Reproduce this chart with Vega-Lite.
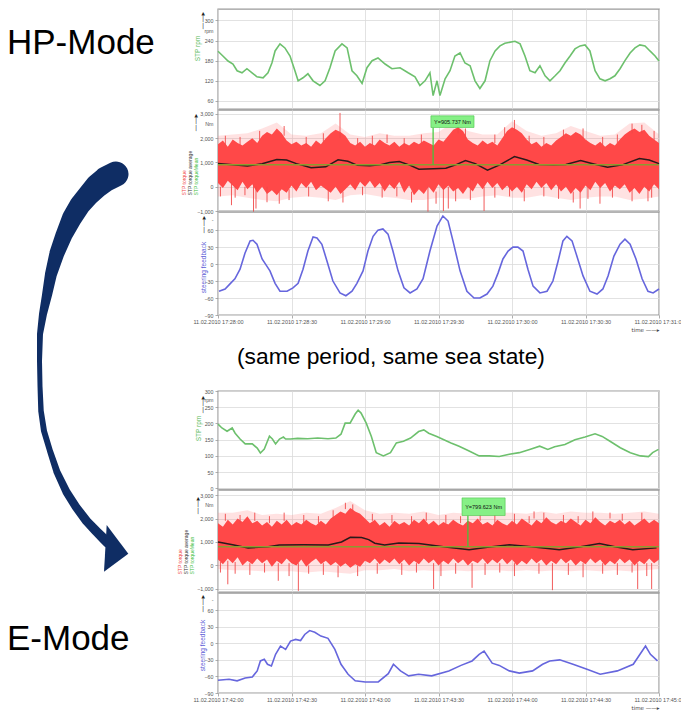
{
"$schema": "https://vega.github.io/schema/vega-lite/v6.json",
"padding": {"left": 0, "top": 8, "right": 0, "bottom": 0},
"background": "white",
"config": {
 "view": {"stroke": "#9a9a9a", "strokeWidth": 1.4},
 "font": "Liberation Sans",
 "axis": {"labelFont": "Liberation Sans", "labelFontSize": 5.3, "labelColor": "#555", "gridColor": "#dadada", "gridWidth": 0.8, "tickColor": "#999", "tickSize": 3, "tickWidth": 0.8, "domain": false, "titleFont": "Liberation Sans", "titleFontWeight": "normal", "labelPadding": 2},
 "axisX": {"labelFlush": false, "labelOverlap": false}
},
"datasets": {
 "leftText": [{"x": 7, "y": 53, "label": "HP-Mode"}, {"x": 7, "y": 649, "label": "E-Mode"}],
 "arrowHead": [{"x": 105.3, "y": 547.3}],
 "arrowL": [
  {"i":1,"x":116,"y":173,"w":25},{"i":2,"x":106,"y":178,"w":25},{"i":3,"x":97,"y":185,"w":24},{"i":4,"x":88.5,"y":194,"w":22},{"i":5,"x":80,"y":204,"w":21},{"i":6,"x":72,"y":217,"w":20},{"i":7,"x":64,"y":234,"w":17},{"i":8,"x":57,"y":252,"w":15},{"i":9,"x":51,"y":273,"w":12},{"i":10,"x":47,"y":294,"w":10},{"i":11,"x":43,"y":313,"w":8},{"i":12,"x":40,"y":333,"w":6},{"i":13,"x":39.5,"y":360,"w":5},{"i":14,"x":40,"y":385,"w":5},{"i":15,"x":41,"y":410,"w":5.5},{"i":16,"x":44,"y":430,"w":6},{"i":17,"x":50,"y":450,"w":6},{"i":18,"x":57,"y":471,"w":7},{"i":19,"x":66.5,"y":491,"w":8},{"i":20,"x":76,"y":506,"w":8.5},{"i":21,"x":86.5,"y":520,"w":9},{"i":22,"x":96,"y":530,"w":9.5},{"i":23,"x":104,"y":538,"w":10},{"i":24,"x":108,"y":542,"w":10}
 ],
 "caption": [{"t": 70.6, "v": 0.446, "label": "(same period, same sea state)"}],
 "rpmA": [
  {"t":0,"v":208},{"t":2,"v":194},{"t":4.1,"v":179},{"t":6.1,"v":170},{"t":7.8,"v":150},{"t":9.8,"v":144},{"t":11.8,"v":156},{"t":13.9,"v":144},{"t":15.9,"v":132},{"t":18.4,"v":129},{"t":20.4,"v":144},{"t":22,"v":173},{"t":23.3,"v":209},{"t":25.3,"v":230},{"t":27.3,"v":218},{"t":29.4,"v":194},{"t":31.4,"v":150},{"t":32.7,"v":120},{"t":34.7,"v":129},{"t":36.7,"v":141},{"t":38.8,"v":120},{"t":41.6,"v":106},{"t":43.7,"v":120},{"t":45.7,"v":159},{"t":47.8,"v":209},{"t":50.6,"v":230},{"t":52.7,"v":218},{"t":54.7,"v":150},{"t":56.7,"v":135},{"t":58.8,"v":112},{"t":60.8,"v":159},{"t":62.9,"v":180},{"t":65.3,"v":188},{"t":68.2,"v":170},{"t":71,"v":156},{"t":74.3,"v":159},{"t":77.6,"v":144},{"t":80.4,"v":132},{"t":82.4,"v":106},{"t":84.5,"v":120},{"t":86.5,"v":144},{"t":87.8,"v":76},{"t":89.4,"v":120},{"t":90.6,"v":76},{"t":92.7,"v":126},{"t":94.7,"v":150},{"t":96.7,"v":194},{"t":98.8,"v":203},{"t":100.8,"v":173},{"t":102.9,"v":165},{"t":104.9,"v":120},{"t":106.9,"v":97},{"t":109,"v":120},{"t":111,"v":180},{"t":113.1,"v":209},{"t":115.1,"v":224},{"t":117.1,"v":232},{"t":121.2,"v":238},{"t":123.3,"v":230},{"t":125.3,"v":194},{"t":127.3,"v":150},{"t":129.4,"v":144},{"t":131.4,"v":165},{"t":133.5,"v":135},{"t":135.5,"v":120},{"t":137.6,"v":135},{"t":139.6,"v":150},{"t":141.6,"v":173},{"t":143.7,"v":194},{"t":145.7,"v":215},{"t":147.8,"v":224},{"t":149.8,"v":227},{"t":151.8,"v":209},{"t":153.9,"v":150},{"t":155.9,"v":126},{"t":158,"v":120},{"t":160,"v":126},{"t":162,"v":135},{"t":164.1,"v":156},{"t":166.1,"v":180},{"t":168.2,"v":203},{"t":170.2,"v":218},{"t":172.2,"v":227},{"t":174.3,"v":224},{"t":176.3,"v":209},{"t":178.4,"v":194},{"t":180,"v":179}
 ],
 "steerA": [
  {"t":0.4,"v":-48},{"t":2.9,"v":-44},{"t":4.9,"v":-35},{"t":6.9,"v":-26},{"t":9,"v":-9},{"t":11,"v":19},{"t":13.1,"v":41},{"t":14.3,"v":42},{"t":15.9,"v":35},{"t":18,"v":9},{"t":20,"v":-4},{"t":21.2,"v":-12},{"t":23.3,"v":-34},{"t":25.3,"v":-48},{"t":28.2,"v":-48},{"t":30.6,"v":-42},{"t":32.7,"v":-34},{"t":34.7,"v":-9},{"t":36.7,"v":23},{"t":38.8,"v":48},{"t":40.4,"v":46},{"t":42.4,"v":35},{"t":44.5,"v":5},{"t":46.9,"v":-30},{"t":49.8,"v":-51},{"t":52.2,"v":-56},{"t":54.7,"v":-48},{"t":56.7,"v":-34},{"t":59.2,"v":-12},{"t":61.2,"v":23},{"t":63.3,"v":49},{"t":65.3,"v":60},{"t":67.3,"v":62},{"t":69.4,"v":53},{"t":71.4,"v":23},{"t":73.5,"v":-12},{"t":75.9,"v":-42},{"t":78.4,"v":-51},{"t":81.2,"v":-44},{"t":83.7,"v":-26},{"t":86.5,"v":23},{"t":89.4,"v":67},{"t":91.8,"v":85},{"t":93.9,"v":76},{"t":95.9,"v":41},{"t":98.8,"v":-12},{"t":101.6,"v":-48},{"t":104.5,"v":-60},{"t":106.9,"v":-60},{"t":109.8,"v":-53},{"t":112.2,"v":-39},{"t":114.3,"v":-16},{"t":116.3,"v":9},{"t":118.4,"v":23},{"t":120.4,"v":30},{"t":122.4,"v":30},{"t":124.5,"v":23},{"t":126.5,"v":-9},{"t":128.6,"v":-39},{"t":131.4,"v":-51},{"t":134.3,"v":-48},{"t":136.7,"v":-30},{"t":138.8,"v":5},{"t":140.8,"v":41},{"t":142.4,"v":49},{"t":144.5,"v":41},{"t":146.5,"v":14},{"t":149,"v":-21},{"t":151.8,"v":-48},{"t":154.7,"v":-53},{"t":157.1,"v":-44},{"t":159.2,"v":-21},{"t":161.6,"v":14},{"t":164.1,"v":35},{"t":166.1,"v":44},{"t":168.2,"v":35},{"t":170.6,"v":9},{"t":173.1,"v":-26},{"t":175.5,"v":-48},{"t":177.6,"v":-51},{"t":180,"v":-44}
 ],
 "fringeA": [
  {"t":0,"hi":2100,"lo":-400},{"t":6,"hi":2150,"lo":-350},{"t":12,"hi":2200,"lo":-450},{"t":18,"hi":2400,"lo":-550},{"t":24,"hi":2650,"lo":-600},{"t":30,"hi":2150,"lo":-450},{"t":36,"hi":2100,"lo":-400},{"t":42,"hi":2200,"lo":-450},{"t":48,"hi":2600,"lo":-550},{"t":54,"hi":2150,"lo":-350},{"t":60,"hi":2050,"lo":-300},{"t":66,"hi":2200,"lo":-400},{"t":72,"hi":2100,"lo":-450},{"t":78,"hi":2100,"lo":-550},{"t":84,"hi":2200,"lo":-550},{"t":90,"hi":2250,"lo":-450},{"t":96,"hi":2650,"lo":-500},{"t":102,"hi":2300,"lo":-500},{"t":108,"hi":2150,"lo":-400},{"t":114,"hi":2150,"lo":-350},{"t":120,"hi":2700,"lo":-450},{"t":126,"hi":2300,"lo":-450},{"t":132,"hi":2100,"lo":-350},{"t":138,"hi":2200,"lo":-450},{"t":144,"hi":2500,"lo":-550},{"t":150,"hi":2300,"lo":-450},{"t":156,"hi":2100,"lo":-400},{"t":162,"hi":2150,"lo":-400},{"t":168,"hi":2600,"lo":-550},{"t":174,"hi":2650,"lo":-500},{"t":180,"hi":2150,"lo":-400}
 ],
 "bandA": [
  {"t":0,"hi":1750,"lo":150},{"t":2,"hi":1900,"lo":-50},{"t":4,"hi":1650,"lo":250},{"t":6,"hi":1950,"lo":50},{"t":8,"hi":1800,"lo":-150},{"t":10,"hi":1700,"lo":200},{"t":12,"hi":1850,"lo":-100},{"t":14,"hi":2000,"lo":100},{"t":16,"hi":1800,"lo":-250},{"t":18,"hi":2100,"lo":0},{"t":20,"hi":2250,"lo":-300},{"t":22,"hi":2150,"lo":-150},{"t":24,"hi":2400,"lo":-350},{"t":26,"hi":2200,"lo":-100},{"t":28,"hi":1900,"lo":-250},{"t":30,"hi":1750,"lo":50},{"t":32,"hi":1850,"lo":-200},{"t":34,"hi":1700,"lo":150},{"t":36,"hi":1800,"lo":-50},{"t":38,"hi":1650,"lo":200},{"t":40,"hi":1900,"lo":-150},{"t":42,"hi":1750,"lo":50},{"t":44,"hi":2000,"lo":-100},{"t":46,"hi":2200,"lo":-250},{"t":48,"hi":2350,"lo":0},{"t":50,"hi":2250,"lo":-300},{"t":52,"hi":2100,"lo":-100},{"t":54,"hi":1800,"lo":100},{"t":56,"hi":1700,"lo":-150},{"t":58,"hi":1850,"lo":200},{"t":60,"hi":1650,"lo":0},{"t":62,"hi":1800,"lo":250},{"t":64,"hi":1700,"lo":-50},{"t":66,"hi":1950,"lo":150},{"t":68,"hi":1800,"lo":-200},{"t":70,"hi":1700,"lo":100},{"t":72,"hi":1850,"lo":-100},{"t":74,"hi":1650,"lo":200},{"t":76,"hi":1800,"lo":-250},{"t":78,"hi":1700,"lo":50},{"t":80,"hi":1850,"lo":-350},{"t":82,"hi":1750,"lo":-100},{"t":84,"hi":1900,"lo":-300},{"t":86,"hi":1800,"lo":0},{"t":88,"hi":1700,"lo":-250},{"t":90,"hi":1950,"lo":100},{"t":92,"hi":1850,"lo":-150},{"t":94,"hi":2100,"lo":50},{"t":96,"hi":2350,"lo":-200},{"t":98,"hi":2450,"lo":-50},{"t":100,"hi":2300,"lo":-300},{"t":102,"hi":1950,"lo":0},{"t":104,"hi":1800,"lo":-200},{"t":106,"hi":1700,"lo":150},{"t":108,"hi":1900,"lo":-100},{"t":110,"hi":1750,"lo":200},{"t":112,"hi":1850,"lo":-50},{"t":114,"hi":1700,"lo":150},{"t":116,"hi":2000,"lo":-150},{"t":118,"hi":2300,"lo":50},{"t":120,"hi":2450,"lo":-200},{"t":122,"hi":2350,"lo":0},{"t":124,"hi":2200,"lo":-250},{"t":126,"hi":1950,"lo":100},{"t":128,"hi":1750,"lo":-100},{"t":130,"hi":1850,"lo":200},{"t":132,"hi":1650,"lo":-50},{"t":134,"hi":1800,"lo":150},{"t":136,"hi":1700,"lo":-150},{"t":138,"hi":1900,"lo":100},{"t":140,"hi":2050,"lo":-200},{"t":142,"hi":2200,"lo":0},{"t":144,"hi":2100,"lo":-300},{"t":146,"hi":2250,"lo":-50},{"t":148,"hi":2150,"lo":-250},{"t":150,"hi":1950,"lo":50},{"t":152,"hi":1800,"lo":-150},{"t":154,"hi":1700,"lo":200},{"t":156,"hi":1850,"lo":-50},{"t":158,"hi":1650,"lo":150},{"t":160,"hi":1800,"lo":-200},{"t":162,"hi":1700,"lo":50},{"t":164,"hi":1950,"lo":-100},{"t":166,"hi":2150,"lo":100},{"t":168,"hi":2300,"lo":-250},{"t":170,"hi":2400,"lo":-50},{"t":172,"hi":2250,"lo":-300},{"t":174,"hi":2350,"lo":0},{"t":176,"hi":2100,"lo":-200},{"t":178,"hi":1950,"lo":100},{"t":180,"hi":1800,"lo":-100}
 ],
 "spikeA": [
  {"t":5.5,"a":200,"b":-760},{"t":14.5,"a":100,"b":-1040},{"t":15.5,"a":0,"b":-900},{"t":20,"a":0,"b":-640},{"t":49.8,"a":2000,"b":3040},{"t":85.7,"a":0,"b":-1040},{"t":92,"a":-100,"b":-1000},{"t":94,"a":0,"b":-900},{"t":98,"a":2200,"b":2700},{"t":108.6,"a":0,"b":-1000},{"t":121,"a":2300,"b":2750},{"t":147.8,"a":0,"b":-900},{"t":155.9,"a":0,"b":-700},{"t":175.5,"a":0,"b":-600},
  {"t":3,"a":1700,"b":2100},{"t":9,"a":1700,"b":2050},{"t":17,"a":1900,"b":2300},{"t":27,"a":2100,"b":2500},{"t":36,"a":1700,"b":2050},{"t":43,"a":1800,"b":2200},{"t":57,"a":1700,"b":2000},{"t":63,"a":1700,"b":2100},{"t":69,"a":1800,"b":2150},{"t":76,"a":1700,"b":2000},{"t":83,"a":1800,"b":2150},{"t":101,"a":2000,"b":2400},{"t":113,"a":1800,"b":2150},{"t":117,"a":2100,"b":2450},{"t":127,"a":1800,"b":2100},{"t":133,"a":1700,"b":2050},{"t":141,"a":2000,"b":2350},{"t":149,"a":2000,"b":2400},{"t":157,"a":1700,"b":2050},{"t":163,"a":1800,"b":2150},{"t":169,"a":2200,"b":2600},{"t":173,"a":2200,"b":2550},{"t":178,"a":1900,"b":2300},
  {"t":1,"a":0,"b":-400},{"t":7,"a":0,"b":-450},{"t":11,"a":0,"b":-350},{"t":25,"a":-200,"b":-700},{"t":29,"a":-100,"b":-550},{"t":37,"a":0,"b":-400},{"t":45,"a":-100,"b":-600},{"t":51,"a":-200,"b":-650},{"t":59,"a":0,"b":-350},{"t":67,"a":0,"b":-450},{"t":73,"a":0,"b":-400},{"t":79,"a":-200,"b":-650},{"t":89,"a":-200,"b":-700},{"t":97,"a":-100,"b":-600},{"t":103,"a":-100,"b":-550},{"t":113,"a":0,"b":-450},{"t":119,"a":0,"b":-400},{"t":125,"a":-100,"b":-600},{"t":133,"a":0,"b":-400},{"t":139,"a":0,"b":-500},{"t":145,"a":-200,"b":-650},{"t":151,"a":0,"b":-500},{"t":161,"a":0,"b":-450},{"t":169,"a":-100,"b":-600},{"t":177,"a":0,"b":-450}
 ],
 "avgA": [
  {"t":0,"v":960},{"t":6,"v":900},{"t":12,"v":850},{"t":18,"v":950},{"t":24,"v":1120},{"t":28,"v":1100},{"t":32,"v":950},{"t":38,"v":780},{"t":44,"v":820},{"t":49,"v":1110},{"t":53,"v":1050},{"t":57,"v":880},{"t":62,"v":860},{"t":66,"v":900},{"t":70,"v":1000},{"t":74,"v":1040},{"t":78,"v":900},{"t":82,"v":720},{"t":88,"v":740},{"t":93,"v":760},{"t":97,"v":900},{"t":101,"v":1080},{"t":105,"v":950},{"t":110,"v":680},{"t":115,"v":900},{"t":121,"v":1240},{"t":126,"v":1100},{"t":131,"v":920},{"t":137,"v":900},{"t":142,"v":920},{"t":148,"v":1080},{"t":153,"v":950},{"t":159,"v":800},{"t":165,"v":900},{"t":172,"v":1160},{"t":176,"v":1100},{"t":180,"v":950}
 ],
 "annA": [{"t0":86.9,"t1":104.5,"y0":2440,"y1":2920,"ts":87.8,"mean":906,"tm":95.7,"ym":2680,"label":"Y=905.737 Nm"}],
 "rpmB": [
  {"t":0,"v":198},{"t":1.6,"v":186},{"t":3.7,"v":176},{"t":5.8,"v":186},{"t":7,"v":170},{"t":9,"v":152},{"t":11.1,"v":137},{"t":14,"v":137},{"t":16,"v":124},{"t":17.3,"v":109},{"t":18.9,"v":121},{"t":21,"v":161},{"t":22.2,"v":152},{"t":23.5,"v":137},{"t":25.1,"v":152},{"t":26.7,"v":158},{"t":27.6,"v":152},{"t":29.6,"v":152},{"t":32.5,"v":154},{"t":36.6,"v":153},{"t":40.7,"v":155},{"t":44.9,"v":153},{"t":48.1,"v":155},{"t":50.2,"v":167},{"t":51.9,"v":201},{"t":53.9,"v":201},{"t":56,"v":229},{"t":57.2,"v":241},{"t":58.4,"v":232},{"t":60.5,"v":201},{"t":62.6,"v":160},{"t":64.6,"v":110},{"t":67.5,"v":100},{"t":70.4,"v":110},{"t":72.8,"v":140},{"t":75.7,"v":145},{"t":78.6,"v":155},{"t":81.9,"v":175},{"t":84,"v":180},{"t":86,"v":170},{"t":89.3,"v":160},{"t":92.2,"v":150},{"t":95.1,"v":140},{"t":98.4,"v":130},{"t":102.5,"v":115},{"t":106.6,"v":100},{"t":110.7,"v":100},{"t":114.8,"v":98},{"t":118.9,"v":105},{"t":123,"v":110},{"t":127.2,"v":120},{"t":131.3,"v":130},{"t":134.6,"v":120},{"t":137.4,"v":128},{"t":141.6,"v":135},{"t":145.7,"v":150},{"t":149.8,"v":158},{"t":153.9,"v":168},{"t":156.8,"v":160},{"t":160,"v":145},{"t":164.2,"v":125},{"t":168.3,"v":110},{"t":172.4,"v":100},{"t":175.7,"v":98},{"t":177.4,"v":110},{"t":179.8,"v":120}
 ],
 "steerB": [
  {"t":0,"v":-67},{"t":4.5,"v":-65},{"t":7.8,"v":-68},{"t":11.1,"v":-63},{"t":14,"v":-61},{"t":16,"v":-50},{"t":17.3,"v":-32},{"t":18.9,"v":-29},{"t":20.2,"v":-38},{"t":21.8,"v":-41},{"t":23.5,"v":-20},{"t":25.5,"v":-5},{"t":27.6,"v":-11},{"t":29.6,"v":4},{"t":31.7,"v":7},{"t":33.7,"v":5},{"t":35.4,"v":16},{"t":37.4,"v":23},{"t":39.5,"v":20},{"t":42,"v":13},{"t":44.9,"v":9},{"t":47.7,"v":-11},{"t":50.2,"v":-38},{"t":53.1,"v":-56},{"t":56,"v":-68},{"t":60.1,"v":-70},{"t":65.4,"v":-70},{"t":69.5,"v":-55},{"t":71.6,"v":-38},{"t":74.5,"v":-50},{"t":77.8,"v":-59},{"t":81.9,"v":-56},{"t":87.2,"v":-59},{"t":94.2,"v":-50},{"t":99.2,"v":-40},{"t":103.7,"v":-32},{"t":106.6,"v":-20},{"t":108.6,"v":-14},{"t":111.9,"v":-36},{"t":114.8,"v":-40},{"t":118.9,"v":-50},{"t":123,"v":-54},{"t":128.4,"v":-50},{"t":132.5,"v":-38},{"t":135.4,"v":-32},{"t":139.5,"v":-30},{"t":144.9,"v":-38},{"t":150.6,"v":-47},{"t":156,"v":-56},{"t":163,"v":-50},{"t":169.5,"v":-38},{"t":174.5,"v":-5},{"t":176.5,"v":-20},{"t":179.4,"v":-32}
 ],
 "fringeB": [
  {"t":0,"hi":2250,"lo":-150},{"t":6,"hi":2250,"lo":-200},{"t":12,"hi":2350,"lo":-200},{"t":18,"hi":2150,"lo":-250},{"t":24,"hi":2200,"lo":-250},{"t":30,"hi":2150,"lo":-250},{"t":36,"hi":2250,"lo":-300},{"t":42,"hi":2200,"lo":-250},{"t":48,"hi":2450,"lo":-300},{"t":54,"hi":2750,"lo":-350},{"t":60,"hi":2350,"lo":-200},{"t":66,"hi":2200,"lo":-200},{"t":72,"hi":2250,"lo":-150},{"t":78,"hi":2200,"lo":-250},{"t":84,"hi":2300,"lo":-200},{"t":90,"hi":2150,"lo":-250},{"t":96,"hi":2250,"lo":-200},{"t":102,"hi":2200,"lo":-250},{"t":108,"hi":2250,"lo":-200},{"t":114,"hi":2250,"lo":-200},{"t":120,"hi":2250,"lo":-250},{"t":126,"hi":2200,"lo":-200},{"t":132,"hi":2300,"lo":-250},{"t":138,"hi":2200,"lo":-200},{"t":144,"hi":2300,"lo":-250},{"t":150,"hi":2250,"lo":-200},{"t":156,"hi":2250,"lo":-250},{"t":162,"hi":2200,"lo":-200},{"t":168,"hi":2250,"lo":-250},{"t":174,"hi":2300,"lo":-200},{"t":180,"hi":2200,"lo":-150}
 ],
 "bandB": [
  {"t":0,"hi":1800,"lo":250},{"t":2,"hi":1650,"lo":50},{"t":4,"hi":1950,"lo":300},{"t":6,"hi":1750,"lo":100},{"t":8,"hi":2000,"lo":350},{"t":10,"hi":1850,"lo":0},{"t":12,"hi":2100,"lo":200},{"t":14,"hi":1800,"lo":50},{"t":16,"hi":1900,"lo":300},{"t":18,"hi":1700,"lo":100},{"t":20,"hi":1850,"lo":250},{"t":22,"hi":1650,"lo":-50},{"t":24,"hi":1900,"lo":200},{"t":26,"hi":1750,"lo":50},{"t":28,"hi":1950,"lo":300},{"t":30,"hi":1700,"lo":100},{"t":32,"hi":1850,"lo":0},{"t":34,"hi":1750,"lo":250},{"t":36,"hi":1950,"lo":-50},{"t":38,"hi":1800,"lo":150},{"t":40,"hi":1700,"lo":300},{"t":42,"hi":1900,"lo":50},{"t":44,"hi":1750,"lo":200},{"t":46,"hi":2000,"lo":0},{"t":48,"hi":2150,"lo":150},{"t":50,"hi":2300,"lo":-50},{"t":52,"hi":2200,"lo":100},{"t":54,"hi":2450,"lo":-100},{"t":56,"hi":2300,"lo":50},{"t":58,"hi":2200,"lo":-50},{"t":60,"hi":2000,"lo":200},{"t":62,"hi":1800,"lo":100},{"t":64,"hi":1950,"lo":300},{"t":66,"hi":1700,"lo":50},{"t":68,"hi":1850,"lo":250},{"t":70,"hi":1650,"lo":100},{"t":72,"hi":1900,"lo":300},{"t":74,"hi":1750,"lo":50},{"t":76,"hi":1850,"lo":250},{"t":78,"hi":1700,"lo":0},{"t":80,"hi":1950,"lo":200},{"t":82,"hi":1800,"lo":50},{"t":84,"hi":2000,"lo":300},{"t":86,"hi":1750,"lo":100},{"t":88,"hi":1900,"lo":250},{"t":90,"hi":1700,"lo":0},{"t":92,"hi":1850,"lo":200},{"t":94,"hi":1750,"lo":50},{"t":96,"hi":1950,"lo":300},{"t":98,"hi":1800,"lo":100},{"t":100,"hi":1700,"lo":250},{"t":102,"hi":1900,"lo":0},{"t":104,"hi":1800,"lo":200},{"t":106,"hi":2000,"lo":100},{"t":108,"hi":1750,"lo":300},{"t":110,"hi":1850,"lo":50},{"t":112,"hi":1700,"lo":250},{"t":114,"hi":1950,"lo":100},{"t":116,"hi":1800,"lo":300},{"t":118,"hi":1700,"lo":50},{"t":120,"hi":1900,"lo":250},{"t":122,"hi":1750,"lo":0},{"t":124,"hi":2000,"lo":200},{"t":126,"hi":1850,"lo":50},{"t":128,"hi":1700,"lo":300},{"t":130,"hi":1950,"lo":100},{"t":132,"hi":1800,"lo":250},{"t":134,"hi":2050,"lo":0},{"t":136,"hi":1850,"lo":200},{"t":138,"hi":1750,"lo":50},{"t":140,"hi":1900,"lo":300},{"t":142,"hi":1800,"lo":100},{"t":144,"hi":2000,"lo":250},{"t":146,"hi":1850,"lo":0},{"t":148,"hi":1700,"lo":200},{"t":150,"hi":1950,"lo":50},{"t":152,"hi":1800,"lo":300},{"t":154,"hi":2050,"lo":100},{"t":156,"hi":1850,"lo":250},{"t":158,"hi":1700,"lo":0},{"t":160,"hi":1900,"lo":200},{"t":162,"hi":1800,"lo":50},{"t":164,"hi":1950,"lo":300},{"t":166,"hi":1750,"lo":100},{"t":168,"hi":1900,"lo":250},{"t":170,"hi":1700,"lo":0},{"t":172,"hi":1850,"lo":200},{"t":174,"hi":2000,"lo":50},{"t":176,"hi":1800,"lo":300},{"t":178,"hi":1950,"lo":100},{"t":180,"hi":1800,"lo":250}
 ],
 "spikeB": [
  {"t":4,"a":200,"b":-800},{"t":24.6,"a":100,"b":-650},{"t":32.8,"a":100,"b":-1080},{"t":52,"a":2400,"b":2670},{"t":88,"a":100,"b":-1000},{"t":103.7,"a":100,"b":-950},{"t":129,"a":2000,"b":2300},{"t":136.5,"a":100,"b":-1050},{"t":160,"a":2000,"b":2250},{"t":171.3,"a":100,"b":-1000},{"t":177,"a":100,"b":-1000},
  {"t":3,"a":1900,"b":2200},{"t":9,"a":1800,"b":2150},{"t":15,"a":1900,"b":2250},{"t":21,"a":1800,"b":2100},{"t":27,"a":1900,"b":2250},{"t":35,"a":1800,"b":2150},{"t":41,"a":1800,"b":2100},{"t":47,"a":2000,"b":2350},{"t":55,"a":2300,"b":2600},{"t":63,"a":1900,"b":2200},{"t":71,"a":1800,"b":2150},{"t":79,"a":1800,"b":2100},{"t":85,"a":1900,"b":2250},{"t":93,"a":1800,"b":2150},{"t":99,"a":1800,"b":2100},{"t":107,"a":1900,"b":2250},{"t":113,"a":1800,"b":2150},{"t":121,"a":1800,"b":2200},{"t":127,"a":1800,"b":2100},{"t":133,"a":1900,"b":2250},{"t":141,"a":1800,"b":2150},{"t":147,"a":1800,"b":2100},{"t":153,"a":1900,"b":2300},{"t":165,"a":1900,"b":2200},{"t":173,"a":1900,"b":2250},
  {"t":1,"a":150,"b":-300},{"t":7,"a":150,"b":-350},{"t":13,"a":100,"b":-400},{"t":19,"a":100,"b":-300},{"t":29,"a":100,"b":-450},{"t":37,"a":0,"b":-350},{"t":43,"a":100,"b":-400},{"t":49,"a":0,"b":-500},{"t":57,"a":0,"b":-450},{"t":65,"a":100,"b":-350},{"t":75,"a":100,"b":-400},{"t":81,"a":100,"b":-300},{"t":91,"a":100,"b":-450},{"t":97,"a":100,"b":-350},{"t":109,"a":100,"b":-400},{"t":115,"a":100,"b":-300},{"t":121,"a":100,"b":-450},{"t":131,"a":100,"b":-350},{"t":143,"a":100,"b":-400},{"t":149,"a":100,"b":-500},{"t":157,"a":100,"b":-350},{"t":163,"a":100,"b":-400},{"t":169,"a":100,"b":-300},{"t":175,"a":100,"b":-450}
 ],
 "avgB": [
  {"t":0,"v":1000},{"t":6,"v":880},{"t":12.3,"v":750},{"t":20.5,"v":800},{"t":25,"v":875},{"t":35,"v":880},{"t":45,"v":870},{"t":50.4,"v":1000},{"t":54,"v":1200},{"t":58.6,"v":1190},{"t":61.5,"v":1100},{"t":64,"v":950},{"t":68,"v":870},{"t":73.8,"v":960},{"t":82,"v":940},{"t":92,"v":800},{"t":102.5,"v":670},{"t":110,"v":780},{"t":118.9,"v":880},{"t":128,"v":800},{"t":139.3,"v":670},{"t":148,"v":800},{"t":155.7,"v":940},{"t":162,"v":800},{"t":169.3,"v":670},{"t":179,"v":750}
 ],
 "annB": [{"t0":99.6,"t1":117.2,"y0":2127,"y1":2877,"ts":102,"mean":799.6,"tm":108.4,"ym":2500,"label":"Y=799.623 Nm"}]
},
"spacing": 0,
"hconcat": [
 {
  "width": 176, "height": 700,
  "view": {"stroke": null},
  "layer": [
   {"data": {"name": "arrowL"}, "mark": {"type": "trail", "color": "#0F2D64"},
    "encoding": {
     "x": {"field": "x", "type": "quantitative", "scale": {"domain": [0, 176], "nice": false, "zero": false}, "axis": null},
     "y": {"field": "y", "type": "quantitative", "scale": {"domain": [8, 708], "reverse": true, "nice": false, "zero": false}, "axis": null},
     "size": {"field": "w", "type": "quantitative", "scale": null, "legend": null},
     "order": {"field": "i", "type": "quantitative"}}},
   {"data": {"name": "arrowHead"}, "mark": {"type": "point", "shape": "M 1.4 -23.3 L 23 5.4 L -1.3 23.4 Z", "size": 4, "filled": true, "color": "#0F2D64", "opacity": 1},
    "encoding": {"x": {"field": "x", "type": "quantitative"}, "y": {"field": "y", "type": "quantitative"}}},
   {"data": {"name": "leftText"}, "mark": {"type": "text", "font": "Liberation Sans", "fontSize": 35, "align": "left", "baseline": "alphabetic", "color": "#000000"},
    "encoding": {"x": {"field": "x", "type": "quantitative"}, "y": {"field": "y", "type": "quantitative"}, "text": {"field": "label"}}}
  ]
 },
 {
  "spacing": 1,
  "bounds": "flush",
  "vconcat": [
   {
    "width": 441, "height": 100,
    "layer": [
     {"data": {"name": "rpmA"}, "mark": {"type": "line", "color": "#6DC06D", "strokeWidth": 1.6},
      "encoding": {
       "x": {"field": "t", "type": "quantitative", "scale": {"domain": [0, 180], "nice": false, "zero": false}, "axis": {"values": [0, 30, 60, 90, 120, 150, 180], "labels": false, "ticks": false, "domain": false, "title": null}},
       "y": {"field": "v", "type": "quantitative", "scale": {"domain": [36, 334], "nice": false, "zero": false}, "axis": {"orient": "left", "values": [60, 120, 180, 240, 270, 300], "labelExpr": "datum.value==270?'rpm':datum.label", "gridOpacity": {"condition": {"test": "datum.value==270", "value": 0}, "value": 1}, "tickOpacity": {"condition": {"test": "datum.value==270", "value": 0}, "value": 1}, "title": "STP rpm", "titleColor": "#5DBB5D", "titleFontSize": 6.5, "titleX": -21, "titleY": 39, "titleAlign": "center", "titleBaseline": "middle"}}}},
     {"data": {"name": "rpmA"}, "mark": {"type": "point", "opacity": 0},
      "encoding": {"y": {"field": "v", "type": "quantitative", "axis": {"orient": "left", "labels": false, "ticks": false, "grid": false, "domain": false, "title": "——▸", "titleFont": "DejaVu Sans", "titleColor": "#222", "titleFontSize": 7, "titleX": -16, "titleY": 20, "titleAlign": "left", "titleBaseline": "middle"}}}}
    ],
    "resolve": {"axis": {"y": "independent"}}
   },
   {
    "width": 441, "height": 101,
    "layer": [
     {"data": {"name": "fringeA"}, "mark": {"type": "area", "color": "#FF7A7A", "opacity": 0.22},
      "encoding": {
       "x": {"field": "t", "type": "quantitative", "scale": {"domain": [0, 180], "nice": false, "zero": false}, "axis": {"values": [0, 30, 60, 90, 120, 150, 180], "labels": false, "ticks": false, "domain": false, "title": null}},
       "y": {"field": "hi", "type": "quantitative", "scale": {"domain": [-1000, 3160], "nice": false, "zero": false}, "axis": {"orient": "left", "values": [-1000, 0, 1000, 2000, 2600, 3000], "labelExpr": "datum.value==2600?'Nm':datum.label", "gridOpacity": {"condition": {"test": "datum.value==2600", "value": 0}, "value": 1}, "tickOpacity": {"condition": {"test": "datum.value==2600", "value": 0}, "value": 1}, "title": "STP torqueMean", "titleColor": "#3DBE3D", "titleFontSize": 5, "titleX": -23, "titleY": 85, "titleAlign": "left", "titleBaseline": "middle"}},
       "y2": {"field": "lo"}}},
     {"data": {"name": "bandA"}, "mark": {"type": "area", "color": "#FF4848", "opacity": 1},
      "encoding": {"x": {"field": "t", "type": "quantitative"}, "y": {"field": "hi", "type": "quantitative", "axis": null}, "y2": {"field": "lo"}}},
     {"data": {"name": "spikeA"}, "mark": {"type": "rule", "color": "#F04848", "strokeWidth": 0.9},
      "encoding": {"x": {"field": "t", "type": "quantitative"}, "y": {"field": "a", "type": "quantitative", "axis": {"orient": "left", "labels": false, "ticks": false, "grid": false, "domain": false, "title": "STP torque", "titleColor": "#F04848", "titleFontSize": 5, "titleX": -35, "titleY": 85, "titleAlign": "left", "titleBaseline": "middle"}}, "y2": {"field": "b"}}},
     {"data": {"name": "avgA"}, "mark": {"type": "line", "color": "#2A1A1A", "strokeWidth": 1.5},
      "encoding": {"x": {"field": "t", "type": "quantitative"}, "y": {"field": "v", "type": "quantitative", "axis": {"orient": "left", "labels": false, "ticks": false, "grid": false, "domain": false, "title": "STP torque average", "titleColor": "#333", "titleFontSize": 5, "titleX": -29, "titleY": 85, "titleAlign": "left", "titleBaseline": "middle"}}}},
     {"data": {"name": "annA"}, "mark": {"type": "rule", "color": "#8B9B2F", "strokeWidth": 1.4},
      "encoding": {"y": {"field": "mean", "type": "quantitative", "axis": {"orient": "left", "labels": false, "ticks": false, "grid": false, "domain": false, "title": "——▸", "titleFont": "DejaVu Sans", "titleColor": "#222", "titleFontSize": 7, "titleX": -23, "titleY": 21, "titleAlign": "left", "titleBaseline": "middle"}}}},
     {"data": {"name": "annA"}, "mark": {"type": "rule", "color": "#3ACB3A", "strokeWidth": 1.2},
      "encoding": {"x": {"field": "ts", "type": "quantitative"}, "y": {"field": "mean", "type": "quantitative", "axis": null}, "y2": {"field": "y0"}}},
     {"data": {"name": "annA"}, "mark": {"type": "rect", "fill": "#86F086", "stroke": "#4CC24C", "strokeWidth": 0.6},
      "encoding": {"x": {"field": "t0", "type": "quantitative"}, "x2": {"field": "t1"}, "y": {"field": "y0", "type": "quantitative", "axis": null}, "y2": {"field": "y1"}}},
     {"data": {"name": "annA"}, "mark": {"type": "text", "fontSize": 5.5, "color": "#111", "font": "Liberation Sans"},
      "encoding": {"x": {"field": "tm", "type": "quantitative"}, "y": {"field": "ym", "type": "quantitative", "axis": null}, "text": {"field": "label"}}}
    ],
    "resolve": {"axis": {"y": "independent"}}
   },
   {
    "width": 441, "height": 103,
    "layer": [
     {"data": {"name": "steerA"}, "mark": {"type": "line", "color": "#6666DD", "strokeWidth": 1.6},
      "encoding": {
       "x": {"field": "t", "type": "quantitative", "scale": {"domain": [0, 180], "nice": false, "zero": false}, "axis": {"values": [0, 30, 60, 90, 120, 150, 180], "labelExpr": "'11.02.2010 17:' + (28 + floor(datum.value/60)) + ':' + (datum.value % 60 == 0 ? '00' : '30')", "labelFontSize": 5.5, "labelPadding": 1, "domain": false, "title": "time  ——▸", "titleFont": "DejaVu Sans", "titleFontSize": 5.5, "titleColor": "#444", "titleAnchor": "end", "titlePadding": 3}},
       "y": {"field": "v", "type": "quantitative", "scale": {"domain": [-90, 92], "nice": false, "zero": false}, "axis": {"orient": "left", "values": [-90, -60, -30, 0, 30, 60, 78], "labelExpr": "datum.value==78?'-':datum.label", "gridOpacity": {"condition": {"test": "datum.value==78", "value": 0}, "value": 1}, "tickOpacity": {"condition": {"test": "datum.value==78", "value": 0}, "value": 1}, "title": "steering feedback", "titleColor": "#5B5BD6", "titleFontSize": 6.5, "titleX": -15, "titleY": 55, "titleAlign": "center", "titleBaseline": "middle"}}}},
     {"data": {"name": "steerA"}, "mark": {"type": "point", "opacity": 0},
      "encoding": {"y": {"field": "v", "type": "quantitative", "axis": {"orient": "left", "labels": false, "ticks": false, "grid": false, "domain": false, "title": "——▸", "titleFont": "DejaVu Sans", "titleColor": "#222", "titleFontSize": 7, "titleX": -15, "titleY": 21, "titleAlign": "left", "titleBaseline": "middle"}}}}
    ],
    "resolve": {"axis": {"y": "independent"}}
   },
   {
    "width": 441, "height": 74,
    "view": {"stroke": null},
    "data": {"name": "caption"},
    "mark": {"type": "text", "font": "Liberation Sans", "fontSize": 22.8, "color": "#000000"},
    "encoding": {
     "x": {"field": "t", "type": "quantitative", "scale": {"domain": [0, 180], "nice": false, "zero": false}, "axis": null},
     "y": {"field": "v", "type": "quantitative", "scale": {"domain": [0, 1], "nice": false, "zero": false}, "axis": null},
     "text": {"field": "label"}}
   },
   {
    "width": 441, "height": 98,
    "layer": [
     {"data": {"name": "rpmB"}, "mark": {"type": "line", "color": "#6DC06D", "strokeWidth": 1.6},
      "encoding": {
       "x": {"field": "t", "type": "quantitative", "scale": {"domain": [0, 180], "nice": false, "zero": false}, "axis": {"values": [0, 30, 60, 90, 120, 150, 180], "labels": false, "ticks": false, "domain": false, "title": null}},
       "y": {"field": "v", "type": "quantitative", "scale": {"domain": [-2, 300], "nice": false, "zero": false}, "axis": {"orient": "left", "values": [0, 50, 100, 150, 200, 250, 275, 300], "labelExpr": "datum.value==275?'rpm':datum.label", "gridOpacity": {"condition": {"test": "datum.value==275", "value": 0}, "value": 1}, "tickOpacity": {"condition": {"test": "datum.value==275", "value": 0}, "value": 1}, "title": "STP rpm", "titleColor": "#5DBB5D", "titleFontSize": 6.5, "titleX": -20, "titleY": 37, "titleAlign": "center", "titleBaseline": "middle"}}}},
     {"data": {"name": "rpmB"}, "mark": {"type": "point", "opacity": 0},
      "encoding": {"y": {"field": "v", "type": "quantitative", "axis": {"orient": "left", "labels": false, "ticks": false, "grid": false, "domain": false, "title": "——▸", "titleFont": "DejaVu Sans", "titleColor": "#222", "titleFontSize": 7, "titleX": -16, "titleY": 22, "titleAlign": "left", "titleBaseline": "middle"}}}}
    ],
    "resolve": {"axis": {"y": "independent"}}
   },
   {
    "width": 441, "height": 102,
    "layer": [
     {"data": {"name": "fringeB"}, "mark": {"type": "area", "color": "#FF7A7A", "opacity": 0.22},
      "encoding": {
       "x": {"field": "t", "type": "quantitative", "scale": {"domain": [0, 180], "nice": false, "zero": false}, "axis": {"values": [0, 30, 60, 90, 120, 150, 180], "labels": false, "ticks": false, "domain": false, "title": null}},
       "y": {"field": "hi", "type": "quantitative", "scale": {"domain": [-1128, 3213], "nice": false, "zero": false}, "axis": {"orient": "left", "values": [-1000, 0, 1000, 2000, 2600, 3000], "labelExpr": "datum.value==2600?'Nm':datum.label", "gridOpacity": {"condition": {"test": "datum.value==2600", "value": 0}, "value": 1}, "tickOpacity": {"condition": {"test": "datum.value==2600", "value": 0}, "value": 1}, "title": "STP torqueMean", "titleColor": "#3DBE3D", "titleFontSize": 5, "titleX": -27, "titleY": 84, "titleAlign": "left", "titleBaseline": "middle"}},
       "y2": {"field": "lo"}}},
     {"data": {"name": "bandB"}, "mark": {"type": "area", "color": "#FF4848", "opacity": 1},
      "encoding": {"x": {"field": "t", "type": "quantitative"}, "y": {"field": "hi", "type": "quantitative", "axis": null}, "y2": {"field": "lo"}}},
     {"data": {"name": "spikeB"}, "mark": {"type": "rule", "color": "#F04848", "strokeWidth": 0.9},
      "encoding": {"x": {"field": "t", "type": "quantitative"}, "y": {"field": "a", "type": "quantitative", "axis": {"orient": "left", "labels": false, "ticks": false, "grid": false, "domain": false, "title": "STP torque", "titleColor": "#F04848", "titleFontSize": 5, "titleX": -39, "titleY": 84, "titleAlign": "left", "titleBaseline": "middle"}}, "y2": {"field": "b"}}},
     {"data": {"name": "avgB"}, "mark": {"type": "line", "color": "#2A1A1A", "strokeWidth": 1.5},
      "encoding": {"x": {"field": "t", "type": "quantitative"}, "y": {"field": "v", "type": "quantitative", "axis": {"orient": "left", "labels": false, "ticks": false, "grid": false, "domain": false, "title": "STP torque average", "titleColor": "#333", "titleFontSize": 5, "titleX": -33, "titleY": 84, "titleAlign": "left", "titleBaseline": "middle"}}}},
     {"data": {"name": "annB"}, "mark": {"type": "rule", "color": "#8B9B2F", "strokeWidth": 1.4},
      "encoding": {"y": {"field": "mean", "type": "quantitative", "axis": {"orient": "left", "labels": false, "ticks": false, "grid": false, "domain": false, "title": "——▸", "titleFont": "DejaVu Sans", "titleColor": "#222", "titleFontSize": 7, "titleX": -21, "titleY": 24, "titleAlign": "left", "titleBaseline": "middle"}}}},
     {"data": {"name": "annB"}, "mark": {"type": "rule", "color": "#3ACB3A", "strokeWidth": 1.2},
      "encoding": {"x": {"field": "ts", "type": "quantitative"}, "y": {"field": "mean", "type": "quantitative", "axis": null}, "y2": {"field": "y0"}}},
     {"data": {"name": "annB"}, "mark": {"type": "rect", "fill": "#86F086", "stroke": "#4CC24C", "strokeWidth": 0.6},
      "encoding": {"x": {"field": "t0", "type": "quantitative"}, "x2": {"field": "t1"}, "y": {"field": "y0", "type": "quantitative", "axis": null}, "y2": {"field": "y1"}}},
     {"data": {"name": "annB"}, "mark": {"type": "text", "fontSize": 5.5, "color": "#111", "font": "Liberation Sans"},
      "encoding": {"x": {"field": "tm", "type": "quantitative"}, "y": {"field": "ym", "type": "quantitative", "axis": null}, "text": {"field": "label"}}}
    ],
    "resolve": {"axis": {"y": "independent"}}
   },
   {
    "width": 441, "height": 100,
    "layer": [
     {"data": {"name": "steerB"}, "mark": {"type": "line", "color": "#6666DD", "strokeWidth": 1.6},
      "encoding": {
       "x": {"field": "t", "type": "quantitative", "scale": {"domain": [0, 180], "nice": false, "zero": false}, "axis": {"values": [0, 30, 60, 90, 120, 150, 180], "labelExpr": "'11.02.2010 17:' + (42 + floor(datum.value/60)) + ':' + (datum.value % 60 == 0 ? '00' : '30')", "labelFontSize": 5.5, "labelPadding": 1, "domain": false, "title": "time  ——▸", "titleFont": "DejaVu Sans", "titleFontSize": 5.5, "titleColor": "#444", "titleAnchor": "end", "titlePadding": 3}},
       "y": {"field": "v", "type": "quantitative", "scale": {"domain": [-90, 91], "nice": false, "zero": false}, "axis": {"orient": "left", "values": [-90, -60, -30, 0, 30, 60, 79], "labelExpr": "datum.value==79?'-':datum.label", "gridOpacity": {"condition": {"test": "datum.value==79", "value": 0}, "value": 1}, "tickOpacity": {"condition": {"test": "datum.value==79", "value": 0}, "value": 1}, "title": "steering feedback", "titleColor": "#5B5BD6", "titleFontSize": 6.5, "titleX": -16, "titleY": 52, "titleAlign": "center", "titleBaseline": "middle"}}}},
     {"data": {"name": "steerB"}, "mark": {"type": "point", "opacity": 0},
      "encoding": {"y": {"field": "v", "type": "quantitative", "axis": {"orient": "left", "labels": false, "ticks": false, "grid": false, "domain": false, "title": "——▸", "titleFont": "DejaVu Sans", "titleColor": "#222", "titleFontSize": 7, "titleX": -16, "titleY": 19, "titleAlign": "left", "titleBaseline": "middle"}}}}
    ],
    "resolve": {"axis": {"y": "independent"}}
   }
  ]
 }
]
}
